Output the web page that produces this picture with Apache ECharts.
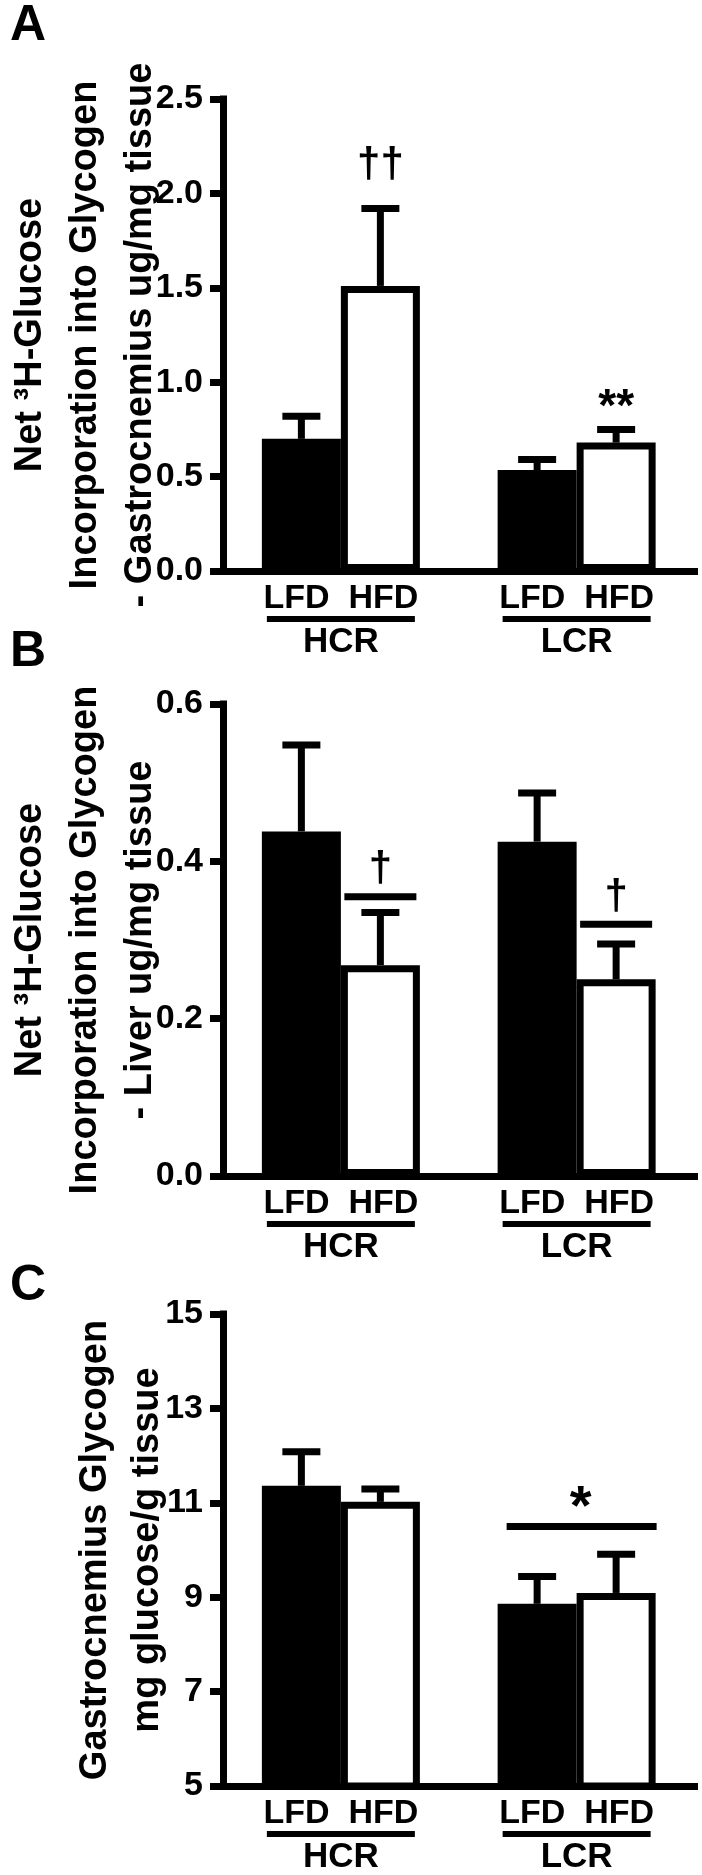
<!DOCTYPE html>
<html>
<head>
<meta charset="utf-8">
<title>Glycogen - HCR / LCR</title>
<script src="https://cdn.jsdelivr.net/npm/echarts@6/dist/echarts.min.js"></script>
<style>
html, body { margin: 0; padding: 0; background: #fff; }
#chart { width: 702px; height: 1875px; }
</style>
</head>
<body>
<div id="chart"></div>
<script>
// categories
const groups = ['HCR', 'LCR'];
const dietLine = 'LFD  HFD';

// A - net 3H-glucose into glycogen, gastrocnemius (ug/mg tissue)
const gastroIncLFD = [0.70, 0.535];
const gastroIncLFDsem = [0.12, 0.055];
const gastroIncHFD = [1.51, 0.68];
const gastroIncHFDsem = [0.41, 0.07];
const ticksA = [0, 0.5, 1.0, 1.5, 2.0, 2.5];
const sigAmark = ['††', '**'];
const sigAcat = [0, 1];
const sigAlevel = [2.15, 0.86];

// B - net 3H-glucose into glycogen, liver (ug/mg tissue)
const liverIncLFD = [0.438, 0.425];
const liverIncLFDsem = [0.11, 0.062];
const liverIncHFD = [0.268, 0.25];
const liverIncHFDsem = [0.067, 0.045];
const ticksB = [0, 0.2, 0.4, 0.6];
const sigBmark = ['†', '†'];
const sigBcat = [0, 1];
const sigBlevel = [0.355, 0.32];

// C - gastrocnemius glycogen (mg glucose/g tissue)
const gastroGlyLFD = [11.36, 8.86];
const gastroGlyLFDsem = [0.72, 0.58];
const gastroGlyHFD = [11.02, 9.09];
const gastroGlyHFDsem = [0.27, 0.82];
const ticksC = [5, 7, 9, 11, 13, 15];
const sigCmark = ['*'];
const sigCcat = [1];
const sigClevel = [10.5];

const FONT = '"Liberation Sans", Arial, Helvetica, sans-serif';
const LW = 7;        // stroke of axes, bars, error bars
const BAR_W = 79;

const panels = [
  {
    letter: 'A', top: 99, nameGap: 55, nameLH: 55,
    name: 'Net ³H-Glucose\nIncorporation into Glycogen\n- Gastrocnemius ug/mg tissue',
    lfd: gastroIncLFD, lfdSem: gastroIncLFDsem, hfd: gastroIncHFD, hfdSem: gastroIncHFDsem,
    ticks: ticksA, digits: 1,
    sig: { mark: sigAmark, cat: sigAcat, level: sigAlevel, kind: 'text', size: [42, 46] }
  },
  {
    letter: 'B', top: 704, nameGap: 55, nameLH: 55,
    name: 'Net ³H-Glucose\nIncorporation into Glycogen\n- Liver ug/mg tissue',
    lfd: liverIncLFD, lfdSem: liverIncLFDsem, hfd: liverIncHFD, hfdSem: liverIncHFDsem,
    ticks: ticksB, digits: 1,
    sig: { mark: sigBmark, cat: sigBcat, level: sigBlevel, kind: 'bar', size: [42, 42] }
  },
  {
    letter: 'C', top: 1314, nameGap: 49, nameLH: 52,
    name: 'Gastrocnemius Glycogen\nmg glucose/g tissue',
    lfd: gastroGlyLFD, lfdSem: gastroGlyLFDsem, hfd: gastroGlyHFD, hfdSem: gastroGlyHFDsem,
    ticks: ticksC, digits: 0,
    sig: { mark: sigCmark, cat: sigCcat, level: sigClevel, kind: 'group', size: [56] }
  }
];
const letterY = [26, 652, 1286];

function errorBars(offset) {
  return function (params, api) {
    const c = api.value(0);
    const mean = api.value(1);
    const sem = api.value(2);
    const base = api.coord([c, mean]);
    const tip = api.coord([c, mean + sem]);
    const x = base[0] + offset;
    const st = { stroke: '#000', lineWidth: LW };
    return {
      type: 'group',
      children: [
        { type: 'line', shape: { x1: x, y1: base[1], x2: x, y2: tip[1] }, style: st },
        { type: 'line', shape: { x1: x - 19, y1: tip[1], x2: x + 19, y2: tip[1] }, style: st }
      ]
    };
  };
}

function sigMarks(sig) {
  return function (params, api) {
    const p = api.coord([api.value(0), api.value(1)]);
    const k = params.dataIndex;
    const font = 'bold ' + sig.size[k] + 'px ' + FONT;
    const txt = (x, y) => ({
      type: 'text', x: x, y: y,
      style: {
        text: sig.mark[k], font: font, fill: '#000',
        align: 'center', verticalAlign: 'middle', textAlign: 'center', textVerticalAlign: 'middle'
      }
    });
    const st = { stroke: '#000', lineWidth: LW };
    if (sig.kind === 'text') {
      return txt(p[0] + BAR_W / 2, p[1]);
    }
    if (sig.kind === 'bar') {
      const x = p[0] + BAR_W / 2;
      return {
        type: 'group',
        children: [
          { type: 'line', shape: { x1: x - 36, y1: p[1], x2: x + 36, y2: p[1] }, style: st },
          txt(x, p[1] - 27)
        ]
      };
    }
    return {
      type: 'group',
      children: [
        { type: 'line', shape: { x1: p[0] - 70, y1: p[1], x2: p[0] + 80, y2: p[1] }, style: st },
        txt(p[0] + 4, p[1] - 18)
      ]
    };
  };
}

const grid = [], xAxis = [], yAxis = [], series = [];
panels.forEach(function (pn, i) {
  grid.push({ left: 223, width: 471.5, top: pn.top, height: 472, containLabel: false, outerBoundsMode: 'none' });

  xAxis.push({
    type: 'category', gridIndex: i, data: groups,
    axisLine: { onZero: false, lineStyle: { color: '#000', width: LW, cap: 'square' } },
    axisTick: { show: false },
    axisLabel: {
      interval: 0, margin: 10, color: '#000',
      formatter: function (v) { return '{d|' + dietLine + '}\n{u| }\n{g|' + v + '}'; },
      rich: {
        d: { fontSize: 34, fontWeight: 'bold', fontFamily: FONT, color: '#000', lineHeight: 35 },
        u: { width: 148, height: 6, lineHeight: 6, fontSize: 6, backgroundColor: '#000' },
        g: { fontSize: 35, fontWeight: 'bold', fontFamily: FONT, color: '#000', lineHeight: 40 }
      }
    },
    splitLine: { show: false }
  });

  yAxis.push({
    type: 'value', gridIndex: i,
    min: pn.ticks[0], max: pn.ticks[pn.ticks.length - 1],
    axisLine: { show: true, onZero: false, lineStyle: { color: '#000', width: LW, cap: 'square' } },
    axisTick: { show: true, length: 13, customValues: pn.ticks, lineStyle: { color: '#000', width: LW } },
    axisLabel: {
      customValues: pn.ticks, margin: 20, color: '#000',
      fontSize: 34, fontWeight: 'bold', fontFamily: FONT,
      formatter: function (v) { return Number(v).toFixed(pn.digits); }
    },
    splitLine: { show: false },
    name: pn.name, nameLocation: 'middle', nameRotate: 90, nameGap: pn.nameGap, nameMoveOverlap: false,
    nameTextStyle: { fontSize: 38, fontWeight: 'bold', fontFamily: FONT, color: '#000', lineHeight: pn.nameLH }
  });

  series.push({
    name: 'LFD', type: 'bar', xAxisIndex: i, yAxisIndex: i,
    barWidth: BAR_W, barGap: '0%',
    itemStyle: { color: '#000', borderColor: '#000', borderWidth: LW },
    data: pn.lfd
  });
  series.push({
    name: 'HFD', type: 'bar', xAxisIndex: i, yAxisIndex: i,
    barWidth: BAR_W, barGap: '0%',
    itemStyle: { color: '#fff', borderColor: '#000', borderWidth: LW },
    data: pn.hfd
  });
  series.push({
    type: 'custom', xAxisIndex: i, yAxisIndex: i, clip: false, z: 5,
    renderItem: errorBars(-BAR_W / 2),
    data: pn.lfd.map(function (m, k) { return [k, m, pn.lfdSem[k]]; })
  });
  series.push({
    type: 'custom', xAxisIndex: i, yAxisIndex: i, clip: false, z: 5,
    renderItem: errorBars(BAR_W / 2),
    data: pn.hfd.map(function (m, k) { return [k, m, pn.hfdSem[k]]; })
  });
  series.push({
    type: 'custom', xAxisIndex: i, yAxisIndex: i, clip: false, z: 5,
    renderItem: sigMarks(pn.sig),
    data: pn.sig.cat.map(function (c, k) { return [c, pn.sig.level[k]]; })
  });
});

const chart = echarts.init(document.getElementById('chart'), null, { renderer: 'canvas' });
chart.setOption({
  animation: false,
  backgroundColor: '#fff',
  textStyle: { fontFamily: FONT },
  tooltip: { show: false },
  grid: grid,
  xAxis: xAxis,
  yAxis: yAxis,
  series: series,
  graphic: panels.map(function (pn, i) {
    return {
      type: 'text', x: 10, y: letterY[i], silent: true,
      style: {
        text: pn.letter, font: 'bold 50px ' + FONT, fill: '#000',
        align: 'left', verticalAlign: 'middle', textAlign: 'left', textVerticalAlign: 'middle'
      }
    };
  })
});
</script>
</body>
</html>
